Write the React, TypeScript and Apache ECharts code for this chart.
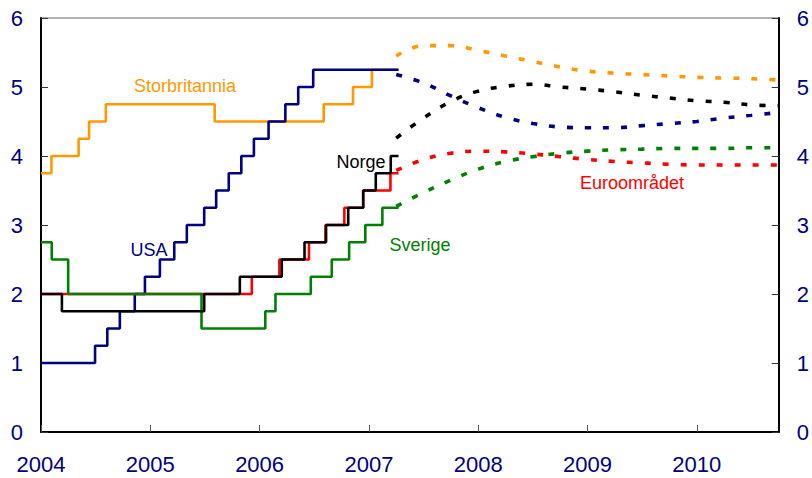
import React, { useEffect, useRef } from "react";
import * as echarts from "echarts";

// ---- Data (policy rates, step series: [date of change, new rate]) ----
const ukSteps: [string, number][] = [
  ["2004-01-01", 3.75], ["2004-02-05", 4.0], ["2004-05-06", 4.25], ["2004-06-10", 4.5],
  ["2004-08-05", 4.75], ["2005-08-04", 4.5], ["2006-08-03", 4.75], ["2006-11-09", 5.0],
  ["2007-01-11", 5.25], ["2007-04-10", 5.25],
];
const usSteps: [string, number][] = [
  ["2004-01-01", 1.0], ["2004-06-30", 1.25], ["2004-08-10", 1.5], ["2004-09-21", 1.75],
  ["2004-11-10", 2.0], ["2004-12-14", 2.25], ["2005-02-02", 2.5], ["2005-03-22", 2.75],
  ["2005-05-03", 3.0], ["2005-06-30", 3.25], ["2005-08-09", 3.5], ["2005-09-20", 3.75],
  ["2005-11-01", 4.0], ["2005-12-13", 4.25], ["2006-01-31", 4.5], ["2006-03-28", 4.75],
  ["2006-05-10", 5.0], ["2006-06-29", 5.25], ["2007-04-10", 5.25],
];
const noSteps: [string, number][] = [
  ["2004-01-01", 2.0], ["2004-03-11", 1.75], ["2005-06-30", 2.0], ["2005-10-27", 2.25],
  ["2006-03-16", 2.5], ["2006-05-31", 2.75], ["2006-08-11", 3.0], ["2006-10-24", 3.25],
  ["2006-12-13", 3.5], ["2007-01-24", 3.75], ["2007-03-15", 4.0], ["2007-04-10", 4.0],
];
const euSteps: [string, number][] = [
  ["2004-01-01", 2.0], ["2005-12-06", 2.25], ["2006-03-08", 2.5], ["2006-06-15", 2.75],
  ["2006-08-09", 3.0], ["2006-10-11", 3.25], ["2006-12-13", 3.5], ["2007-03-14", 3.75],
  ["2007-04-10", 3.75],
];
const seSteps: [string, number][] = [
  ["2004-01-01", 2.75], ["2004-02-06", 2.5], ["2004-04-01", 2.0], ["2005-06-21", 1.5],
  ["2006-01-20", 1.75], ["2006-02-23", 2.0], ["2006-06-21", 2.25], ["2006-08-30", 2.5],
  ["2006-10-27", 2.75], ["2006-12-20", 3.0], ["2007-02-15", 3.25], ["2007-04-10", 3.25],
];

// ---- Forward rates (quarterly, decimal year) ----
const fwdTimes = [2007.25, 2007.5, 2007.75, 2008.0, 2008.25, 2008.5, 2008.75, 2009.0, 2009.25, 2009.5, 2009.75, 2010.0, 2010.25, 2010.5, 2010.75];
const ukFwd = [5.45, 5.6, 5.6, 5.53, 5.45, 5.37, 5.29, 5.23, 5.2, 5.18, 5.16, 5.14, 5.13, 5.12, 5.1];
const usFwd = [5.18, 5.06, 4.87, 4.7, 4.56, 4.47, 4.42, 4.41, 4.41, 4.44, 4.47, 4.5, 4.55, 4.59, 4.63];
const noFwd = [4.26, 4.55, 4.79, 4.94, 5.01, 5.04, 5.0, 4.97, 4.93, 4.88, 4.84, 4.8, 4.78, 4.74, 4.73];
const euFwd = [3.79, 3.95, 4.04, 4.07, 4.06, 4.03, 3.99, 3.95, 3.92, 3.9, 3.88, 3.87, 3.87, 3.87, 3.87];
const seFwd = [3.27, 3.47, 3.65, 3.81, 3.92, 3.99, 4.04, 4.07, 4.09, 4.1, 4.11, 4.11, 4.11, 4.12, 4.12];

const yearTicks = [2004, 2005, 2006, 2007, 2008, 2009, 2010];
const yTicks = [0, 1, 2, 3, 4, 5, 6];

const COLORS = {
  uk: "#FF9900",
  us: "#000080",
  no: "#000000",
  eu: "#FF0000",
  se: "#008000",
};

function toYear(d: string): number {
  const [y, m, day] = d.split("-").map(Number);
  const start = Date.UTC(y, 0, 1);
  const end = Date.UTC(y + 1, 0, 1);
  return y + (Date.UTC(y, m - 1, day) - start) / (end - start);
}

const stepData = (s: [string, number][]) => s.map(([d, v]) => [toYear(d), v]);
const fwdData = (v: number[]) => fwdTimes.map((t, i) => [t, v[i]]);

const FONT = "'Liberation Sans', Arial, sans-serif";

export default function App() {
  const ref = useRef<HTMLDivElement>(null);
  useEffect(() => {
    if (!ref.current) return;
    const chart = echarts.init(ref.current, undefined, { renderer: "svg" });
    const solid = (name: string, data: [string, number][], color: string, z: number) => ({
      name,
      type: "line",
      step: "end",
      data: stepData(data),
      showSymbol: false,
      symbol: "none",
      z,
      lineStyle: { color, width: 2.6 },
    });
    const dashed = (name: string, data: number[], color: string, z: number) => ({
      name: name + "_fwd",
      type: "line",
      smooth: 0.4,
      data: fwdData(data),
      showSymbol: false,
      symbol: "none",
      z,
      lineStyle: { color, width: 3.6, type: [6, 12], cap: "butt" },
    });
    const axisLabel = { color: "#000080", fontSize: 22, fontFamily: FONT };
    chart.setOption({
      animation: false,
      grid: {
        left: 41, right: 30, top: 18, bottom: 46,
        show: true, borderColor: "#666", borderWidth: 1,
      },
      xAxis: {
        type: "value",
        min: 2004,
        max: 2010.75,
        interval: 1,
        axisLine: { show: true, lineStyle: { color: "#000", width: 2 } },
        axisTick: { show: true, inside: true, length: 7, lineStyle: { color: "#555", width: 1 } },
        axisLabel: {
          ...axisLabel,
          margin: 21,
          showMaxLabel: false,
          formatter: (v: number) => (yearTicks.includes(v) ? String(v) : ""),
        },
        splitLine: { show: false },
      },
      yAxis: [
        {
          type: "value", min: 0, max: 6, interval: 1, position: "left",
          axisLine: { show: true, lineStyle: { color: "#000", width: 2 } },
          axisTick: { show: true, inside: true, length: 7, lineStyle: { color: "#333", width: 1 } },
          axisLabel: { ...axisLabel, margin: 18, formatter: (v: number) => (yTicks.includes(v) ? String(v) : "") },
          splitLine: { show: false },
        },
        {
          type: "value", min: 0, max: 6, interval: 1, position: "right",
          axisLine: { show: true, lineStyle: { color: "#000", width: 2 } },
          axisTick: { show: true, inside: true, length: 7, lineStyle: { color: "#333", width: 1 } },
          axisLabel: { ...axisLabel, margin: 18, formatter: (v: number) => (yTicks.includes(v) ? String(v) : "") },
          splitLine: { show: false },
        },
      ],
      series: [
        solid("Storbritannia", ukSteps, COLORS.uk, 2),
        solid("USA", usSteps, COLORS.us, 3),
        solid("Euroområdet", euSteps, COLORS.eu, 4),
        solid("Sverige", seSteps, COLORS.se, 5),
        solid("Norge", noSteps, COLORS.no, 6),
        dashed("Storbritannia", ukFwd, COLORS.uk, 2),
        dashed("USA", usFwd, COLORS.us, 3),
        dashed("Euroområdet", euFwd, COLORS.eu, 4),
        dashed("Sverige", seFwd, COLORS.se, 5),
        dashed("Norge", noFwd, COLORS.no, 6),
      ],
      graphic: [
        { type: "text", x: 185, y: 86, style: { text: "Storbritannia", fill: COLORS.uk, font: `18px ${FONT}`, textAlign: "center", textVerticalAlign: "middle" } },
        { type: "text", x: 149, y: 250, style: { text: "USA", fill: COLORS.us, font: `18px ${FONT}`, textAlign: "center", textVerticalAlign: "middle" } },
        { type: "text", x: 361, y: 162, style: { text: "Norge", fill: COLORS.no, font: `18px ${FONT}`, textAlign: "center", textVerticalAlign: "middle" } },
        { type: "text", x: 420, y: 245, style: { text: "Sverige", fill: COLORS.se, font: `18px ${FONT}`, textAlign: "center", textVerticalAlign: "middle" } },
        { type: "text", x: 632, y: 183, style: { text: "Euroområdet", fill: COLORS.eu, font: `18px ${FONT}`, textAlign: "center", textVerticalAlign: "middle" } },
      ],
    });
    return () => chart.dispose();
  }, []);
  return (
    <div
      ref={ref}
      style={{ position: "fixed", left: 0, top: 0, width: 812, height: 478, background: "#fff" }}
    />
  );
}
